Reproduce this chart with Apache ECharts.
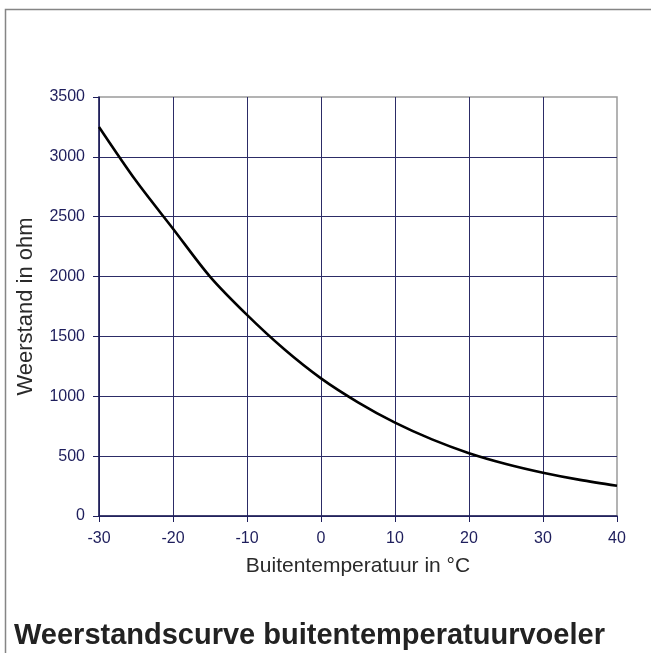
<!DOCTYPE html>
<html>
<head>
<meta charset="utf-8">
<script src="https://cdn.jsdelivr.net/npm/echarts@6/dist/echarts.min.js"></script>
<style>
  html, body { margin: 0; padding: 0; background: #ffffff; }
  #chart { width: 651px; height: 653px; }
</style>
</head>
<body>
<div id="chart"></div>
<script>
// Outdoor temperature (°C) and sensor resistance (ohm)
const temperatures = [-30, -25, -20, -15, -10, -5, 0, 5, 10, 15, 20, 25, 30, 35, 40];
const resistances  = [3250, 2800, 2400, 2000, 1680, 1395, 1150, 950, 780, 640, 525, 435, 362, 302, 253];

const xTicks = { min: -30, max: 40, interval: 10 };
const yTicks = { min: 0, max: 3500, interval: 500 };

const titleText = 'Weerstandscurve buitentemperatuurvoeler';
const xName = 'Buitentemperatuur in °C';
const yName = 'Weerstand in ohm';

const FONT = "'Liberation Sans', Arial, Helvetica, sans-serif";
const NAVY = '#1e1e5c';
const GRID_LINE = '#2c2c66';

const chart = echarts.init(document.getElementById('chart'), null, { renderer: 'canvas' });

chart.setOption({
  animation: false,
  backgroundColor: '#ffffff',
  textStyle: { fontFamily: FONT },
  title: {
    text: titleText,
    left: 14,
    top: 621,
    padding: 0,
    textStyle: { fontFamily: FONT, fontSize: 29, fontWeight: 'bold', color: '#222222' }
  },
  graphic: [{
    // outer frame (left and top edges)
    type: 'rect',
    shape: { x: 5.5, y: 9.5, width: 700, height: 700 },
    style: { fill: 'none', stroke: '#858585', lineWidth: 1.5 },
    silent: true,
    z: -1
  }],
  grid: {
    left: 99, right: 34, top: 97, bottom: 137,
    show: true,
    borderColor: '#9a9a9a',
    borderWidth: 1.5,
    backgroundColor: 'transparent'
  },
  xAxis: {
    type: 'value',
    min: xTicks.min, max: xTicks.max, interval: xTicks.interval,
    name: xName,
    nameLocation: 'middle',
    nameGap: 40,
    nameTextStyle: { fontFamily: FONT, fontSize: 21, color: '#2a2a2a' },
    axisLine: { show: true, onZero: false, lineStyle: { color: NAVY, width: 1.5 } },
    axisTick: { show: true, inside: false, length: 6, lineStyle: { color: NAVY, width: 1 } },
    axisLabel: { margin: 15, fontFamily: FONT, fontSize: 16, color: NAVY, formatter: v => String(v) },
    splitLine: { show: true, showMaxLine: false, lineStyle: { color: GRID_LINE, width: 1 } }
  },
  yAxis: {
    type: 'value',
    min: yTicks.min, max: yTicks.max, interval: yTicks.interval,
    name: yName,
    nameLocation: 'middle',
    nameRotate: 90,
    nameGap: 62,
    nameTextStyle: { fontFamily: FONT, fontSize: 22, color: '#2a2a2a' },
    axisLine: { show: true, onZero: false, lineStyle: { color: NAVY, width: 1.5 } },
    axisTick: { show: true, inside: false, length: 6, lineStyle: { color: NAVY, width: 1 } },
    axisLabel: { margin: 14, fontFamily: FONT, fontSize: 16, color: NAVY, formatter: v => String(v) },
    splitLine: { show: true, showMaxLine: false, lineStyle: { color: GRID_LINE, width: 1 } }
  },
  series: [{
    type: 'line',
    data: temperatures.map((t, i) => [t, resistances[i]]),
    smooth: 0.3,
    showSymbol: false,
    symbol: 'none',
    lineStyle: { color: '#000000', width: 2.6 },
    z: 5
  }]
});
</script>
</body>
</html>
